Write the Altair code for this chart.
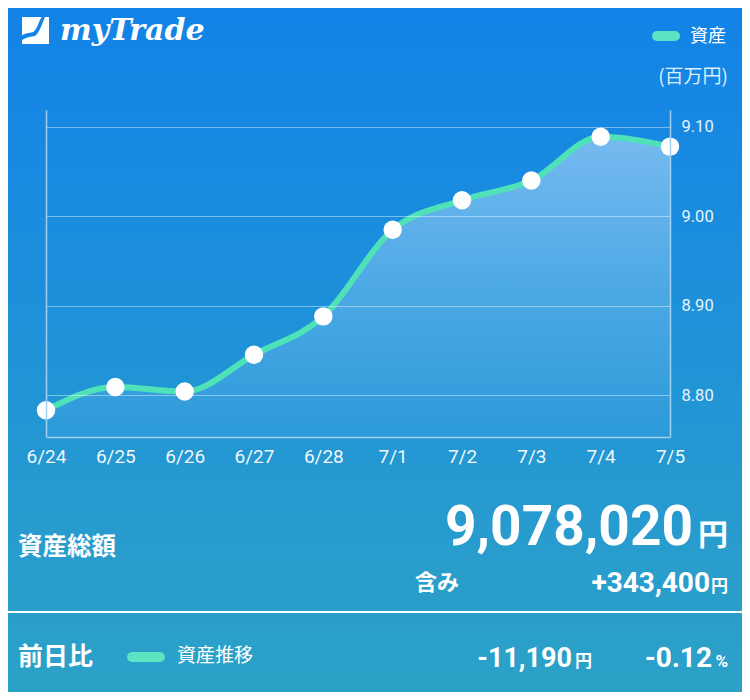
import altair as alt
import pandas as pd

# ---- data ----
dates = ["6/24", "6/25", "6/26", "6/27", "6/28", "7/1", "7/2", "7/3", "7/4", "7/5"]
assets = [8.783, 8.809, 8.804, 8.845, 8.888, 8.985, 9.018, 9.040, 9.089, 9.078]
y_ticks = [8.80, 8.90, 9.00, 9.10]
y_domain = [8.753, 9.119]

logo_text = "myTrade"
legend_label = "資産"
unit_label = "(百万円)"
total_label = "資産総額"
total_value = "9,078,020"
yen = "円"
unreal_label = "含み"
unreal_value = "+343,400"
dod_label = "前日比"
series_label = "資産推移"
dod_value = "-11,190"
dod_pct = "-0.12"
pct = "%"

df = pd.DataFrame({"date": dates, "value": assets})
one = pd.DataFrame({"k": [0]})

W, H = 624, 327
PAD = {"left": 38, "top": 102, "right": 72, "bottom": 255}

LINE_C = "#4FE2B8"
CJK = "Noto Sans CJK JP"
NUM = "Roboto"
AX_C = "#9fd2f2"

x_enc = alt.X(
    "date:N",
    sort=dates,
    scale=alt.Scale(type="point", padding=0),
    axis=alt.Axis(
        title=None, labelAngle=0, ticks=False, grid=False, zindex=1,
        domainColor=AX_C, domainWidth=1.5,
        labelColor="#ffffff", labelFont=NUM, labelFontSize=19,
        labelPadding=10, labelOpacity=0.95,
    ),
)
y_scale = alt.Scale(domain=y_domain, nice=False, zero=False)

# background gradient
bg = alt.Chart(one).mark_rect(
    color=alt.Gradient(
        gradient="linear", x1=0, x2=0, y1=0, y2=1,
        stops=[
            alt.GradientStop(color="#1283E7", offset=0),
            alt.GradientStop(color="#1E91DA", offset=0.45),
            alt.GradientStop(color="#2A9ECB", offset=0.85),
            alt.GradientStop(color="#2BA1C7", offset=1),
        ],
    )
).encode(
    x=alt.value(-PAD["left"]), x2=alt.value(W + PAD["right"]),
    y=alt.value(-PAD["top"]), y2=alt.value(H + PAD["bottom"]),
)

area = alt.Chart(df).mark_area(
    interpolate="monotone",
    clip=True,
    line=False,
    color=alt.Gradient(
        gradient="linear", x1=0, x2=0, y1=0, y2=1,
        stops=[
            alt.GradientStop(color="#76BAF0", offset=0),
            alt.GradientStop(color="#4DA9E5", offset=0.5),
            alt.GradientStop(color="#2C9AD9", offset=1),
        ],
    ),
).encode(
    x=x_enc,
    y=alt.Y("value:Q", scale=y_scale, axis=None),
    y2=alt.datum(y_domain[0]),
)

line = alt.Chart(df).mark_line(
    interpolate="monotone", color=LINE_C, strokeWidth=6, strokeCap="round"
).encode(
    x=x_enc,
    y=alt.Y(
        "value:Q", scale=y_scale,
        axis=alt.Axis(
            orient="right", title=None, values=y_ticks, format=".2f",
            grid=True, gridColor="rgba(255,255,255,0.42)", gridWidth=1,
            ticks=False, domainColor=AX_C, domainWidth=1.5, zindex=1,
            labelColor="#e8f4ff", labelFont=NUM, labelFontSize=16.5,
            labelPadding=11,
        ),
    ),
)

points = alt.Chart(df).mark_circle(color="white", opacity=1, size=340).encode(
    x=x_enc,
    y=alt.Y(
        "value:Q", scale=y_scale,
        axis=alt.Axis(
            orient="left", title=None, labels=False, ticks=False, grid=False,
            domainColor=AX_C, domainWidth=1.5, zindex=1,
        ),
    ),
)


def txt(s, x, y, size, font=CJK, weight="normal", align="left",
        baseline="middle", color="white", style=None):
    kw = dict(fontSize=size, font=font, fontWeight=weight, align=align,
              baseline=baseline, color=color)
    if style:
        kw["fontStyle"] = style
    return alt.Chart(one).mark_text(**kw).encode(
        x=alt.value(x), y=alt.value(y), text=alt.value(s)
    )


def pill(x1, x2, y):
    return alt.Chart(one).mark_rule(
        color="#5CE3C2", strokeWidth=10, strokeCap="round"
    ).encode(x=alt.value(x1), x2=alt.value(x2), y=alt.value(y))


icon_top = "M -1 -1 L 0.45 -1 C 0.2 -0.6 0.1 0.1 -0.3 0.15 C -0.6 0.2 -0.8 0.25 -1 0.35 Z"
icon_bot = ("M -1 0.7 C -0.7 0.55 -0.5 0.45 -0.2 0.45 C 0.2 0.45 0.45 -0.4 0.7 -1 "
            "L 1 -1 L 1 1 L -1 1 Z")
logo_icon = alt.layer(*[
    alt.Chart(one).mark_point(
        shape=p, filled=True, color="white", opacity=1, size=27 * 27, strokeWidth=0
    ).encode(x=alt.value(-10.5), y=alt.value(-79.5))
    for p in (icon_top, icon_bot)
])

divider = alt.Chart(one).mark_rule(color="white", strokeWidth=2).encode(
    x=alt.value(-PAD["left"]), x2=alt.value(W + PAD["right"]), y=alt.value(502)
)

texts = [
    txt(logo_text, 14, -70, 30, font="DejaVu Serif", weight="bold",
        baseline="alphabetic", style="italic"),
    pill(611, 629, -74),
    txt(legend_label, 644, -73, 18),
    txt(unit_label, 682, -33, 19, align="right", color="#dbeeff"),
    txt(total_label, -28, 438, 24.5, weight="bold"),
    txt(total_value, 647, 435, 55, font=NUM, weight="bold", align="right",
        baseline="alphabetic"),
    txt(yen, 682, 435, 30, weight="bold", align="right", baseline="alphabetic"),
    txt(unreal_label, 369, 473, 22, weight="bold"),
    txt(unreal_value, 664, 482, 28, font=NUM, weight="bold", align="right",
        baseline="alphabetic"),
    txt(yen, 682, 482, 17, weight="bold", align="right", baseline="alphabetic"),
    divider,
    txt(dod_label, -28, 547, 25, weight="bold"),
    pill(86, 114, 547),
    txt(series_label, 131, 546, 19),
    txt(dod_value, 526, 557, 27, font=NUM, weight="bold", align="right",
        baseline="alphabetic"),
    txt(yen, 546, 557, 17, weight="bold", align="right", baseline="alphabetic"),
    txt(dod_pct, 666, 557, 28, font=NUM, weight="bold", align="right",
        baseline="alphabetic"),
    txt(pct, 682, 557, 17, font=NUM, weight="bold", align="right",
        baseline="alphabetic"),
]

chart = alt.layer(
    bg, area, line, points, logo_icon, *texts
).resolve_axis(y="independent").properties(
    width=W, height=H,
    padding=PAD,
    autosize=alt.AutoSizeParams(type="none"),
    background="#1E90DA",
).configure_view(stroke=None)

chart.save("out.html", embed_options={"renderer": "svg", "actions": False})
